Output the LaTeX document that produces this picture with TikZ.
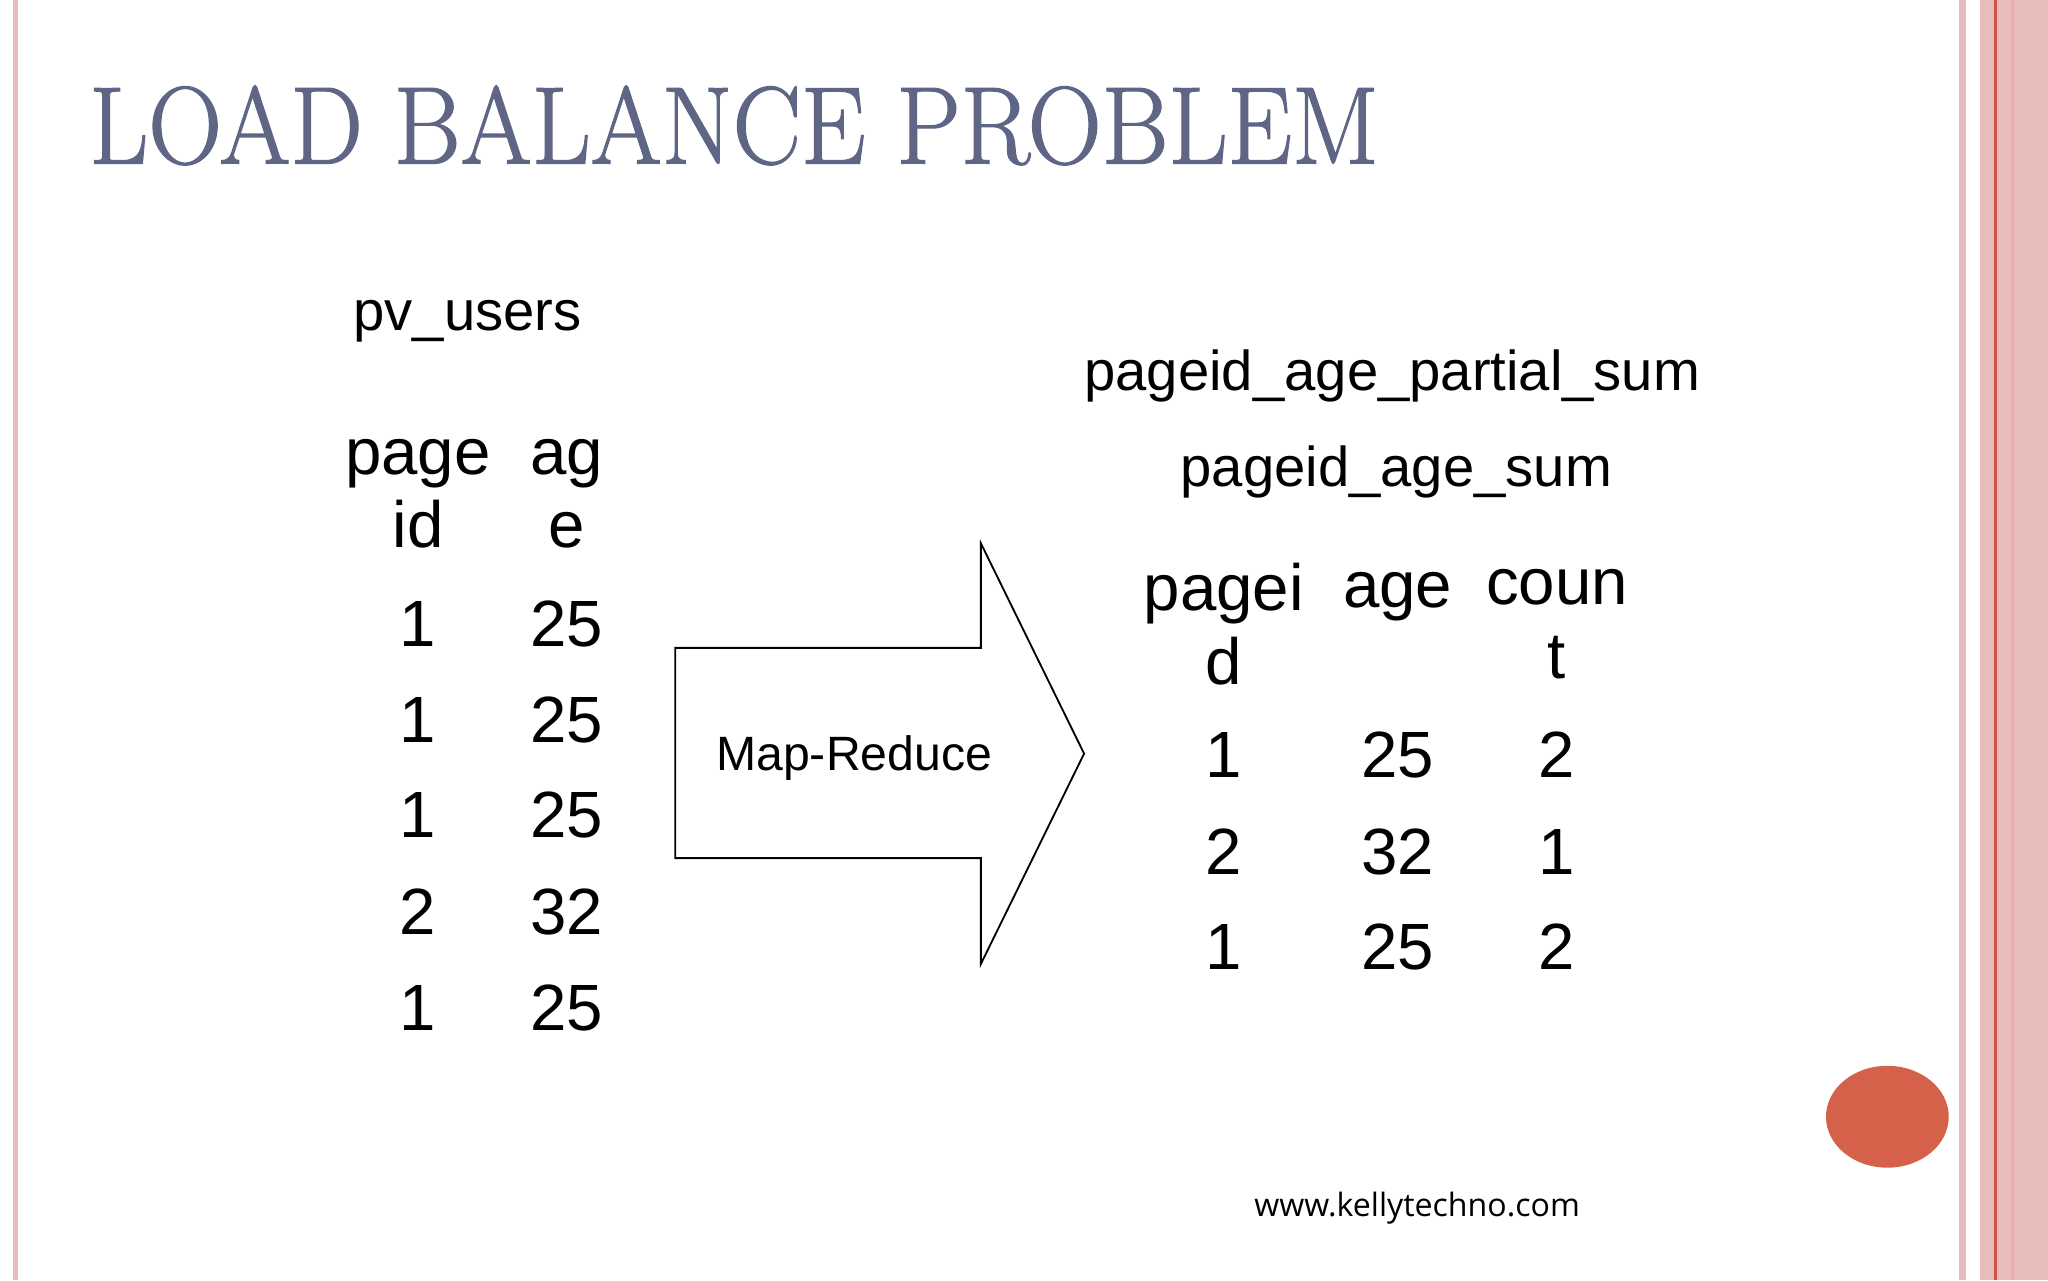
\documentclass[tikz,border=0pt]{standalone}
\usepackage{fontspec}
\usepackage{graphicx}
\setmainfont{Liberation Sans}
\newfontfamily\titlefont[FakeBold=1.2]{Latin Modern Roman}
\newfontfamily\webfont{Open Sans}
\definecolor{titlec}{HTML}{5F6584}
\definecolor{pinkc}{HTML}{E8BCBA}
\definecolor{redl}{HTML}{D0504A}
\definecolor{dotc}{HTML}{D5614A}
\begin{document}
\begin{tikzpicture}[x=0.02cm,y=-0.02cm,
  big/.style={font=\fontsize{28.5}{32}\selectfont,align=center,inner sep=0},
  mid/.style={font=\fontsize{24.5}{27}\selectfont,inner sep=0}]
\useasboundingbox (0,0) rectangle (1568,980);
\fill[white] (0,0) rectangle (1568,980);
% borders
\fill[pinkc] (10,0) rectangle (14,980);
\fill[pinkc] (1500,0) rectangle (1505,980);
\fill[pinkc] (1516,0) rectangle (1568,980);
\fill[redl] (1527,0) rectangle (1529,980);
\fill[pinkc!70!red!70] (1540,0) rectangle (1542,980);
% title
\node[anchor=west,inner sep=0,text=titlec] (title) at (68,96) {\scalebox{0.93}[1]{\titlefont\fontsize{48}{50}\selectfont LOAD BALANCE PROBLEM}};
% left table
\node[mid] (pv) at (358,246) {pv\_users};
\node[big] (h1) at (320,378) {page\\id};
\node[big] (h2) at (434,378) {ag\\e};
\foreach \y/\a/\b [count=\i] in {478/1/25,551/1/25,624/1/25,698/2/32,772/1/25}{
  \node[big] (l\i a) at (320,\y) {\a};
  \node[big] (l\i b) at (434,\y) {\b};
}
% arrow
\draw[black,line width=0.8pt] (517,496) -- (751,496) -- (751,416) -- (830,577) -- (751,738) -- (751,657) -- (517,657) -- cycle;
\node[mid,font=\fontsize{21}{24}\selectfont] (mr) at (654,580) {Map-Reduce};
% right table
\node[mid] (ps) at (1066,288) {pageid\_age\_partial\_sum};
\node[mid] (as) at (1069,361) {pageid\_age\_sum};
\node[big] (r1) at (937,478) {pagei\\d};
\node[big,anchor=base] (r2) at (1070,465) {age};
\node[big] (r3) at (1192,478) {coun\\t};
\foreach \y/\a/\b/\c [count=\i] in {578/1/25/2,652/2/32/1,725/1/25/2}{
  \node[big] (m\i a) at (937,\y) {\a};
  \node[big] (m\i b) at (1070,\y) {\b};
  \node[big] (m\i c) at (1192,\y) {\c};
}
% dot
\fill[dotc] (1445,855) ellipse [x radius=47, y radius=39];
\node[inner sep=0,font=\webfont\fontsize{14}{16}\selectfont] (web) at (1085,925) {www.kellytechno.com};
\end{tikzpicture}
\end{document}
